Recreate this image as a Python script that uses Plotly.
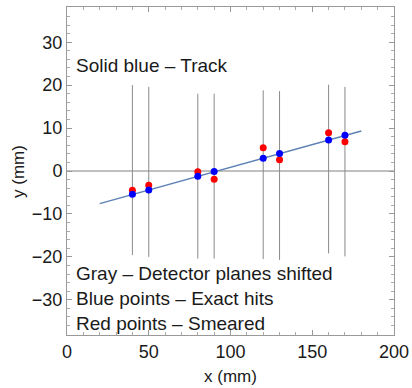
import plotly.graph_objects as go

planes_x = [40, 50, 80, 90, 120, 130, 160, 170]
plane_top = [20.0, 19.6, 18.0, 18.0, 18.8, 18.6, 20.1, 19.6]
plane_bottom = [-19.6, -20.0, -20.4, -20.4, -20.5, -20.7, -19.2, -19.9]
exact_y = [-5.4, -4.4, -1.2, -0.1, 2.95, 4.1, 7.2, 8.3]
smeared_y = [-4.5, -3.3, -0.2, -1.9, 5.4, 2.6, 8.9, 6.8]
track_x = [20, 180]
track_y = [-7.6, 9.3]
labels = ["Solid blue \u2013 Track", "Gray \u2013 Detector planes shifted",
          "Blue points \u2013 Exact hits", "Red points \u2013 Smeared"]
label_y = [24.5, -23.8, -29.6, -35.5]

FONT = "Liberation Sans, Arial, sans-serif"
TXT = "#1a1a1a"
fig = go.Figure()

fig.add_trace(go.Scatter(x=[0, 200], y=[0, 0], mode="lines",
                         line=dict(color="#808080", width=1), hoverinfo="skip", showlegend=False))
for px, t, b in zip(planes_x, plane_top, plane_bottom):
    fig.add_trace(go.Scatter(x=[px, px], y=[b, t], mode="lines",
                             line=dict(color="#8a8a8a", width=1), hoverinfo="skip", showlegend=False))
fig.add_trace(go.Scatter(x=track_x, y=track_y, mode="lines",
                         line=dict(color="#5E81B5", width=1.5), showlegend=False))
fig.add_trace(go.Scatter(x=planes_x, y=smeared_y, mode="markers",
                         marker=dict(color="#ff0000", size=7), showlegend=False))
fig.add_trace(go.Scatter(x=planes_x, y=exact_y, mode="markers",
                         marker=dict(color="#0000ff", size=7), showlegend=False))

for txt, ly in zip(labels, label_y):
    fig.add_annotation(x=4.5, y=ly, text=txt, showarrow=False, xanchor="left", yanchor="middle",
                       font=dict(family=FONT, size=19, color=TXT))

fig.add_annotation(xref="paper", yref="paper", x=0.5, y=-0.128, text="x (mm)", showarrow=False,
                   xanchor="center", yanchor="middle", font=dict(family=FONT, size=17, color=TXT))
fig.add_annotation(xref="paper", yref="paper", x=-0.15, y=0.5, text="y (mm)", showarrow=False,
                   textangle=-90, xanchor="center", yanchor="middle",
                   font=dict(family=FONT, size=17, color=TXT))

axis_common = dict(showgrid=False, zeroline=False, showline=True, linecolor="#999999", linewidth=1,
                   mirror="allticks", ticks="inside", ticklen=5, tickcolor="#999999", automargin=False,
                   tickfont=dict(family=FONT, size=18, color=TXT))

fig.update_xaxes(range=[0, 200], tickvals=[0, 50, 100, 150, 200],
                 minor=dict(dtick=10, ticks="inside", ticklen=3, tickcolor="#aaaaaa"),
                 **axis_common)
fig.update_yaxes(range=[-38.2, 38.2], tickvals=[-30, -20, -10, 0, 10, 20, 30],
                 ticktext=["\u221230", "\u221220", "\u221210", "0", "10", "20", "30"],
                 minor=dict(dtick=2, ticks="inside", ticklen=3, tickcolor="#aaaaaa"),
                 **axis_common)

fig.update_layout(width=412, height=388, margin=dict(l=67, r=18, t=7, b=53),
                  plot_bgcolor="white", paper_bgcolor="white")
fig.write_html("out.html", config={"displayModeBar": False},
               post_script="document.body.style.margin='0';document.body.style.overflow='hidden';")
